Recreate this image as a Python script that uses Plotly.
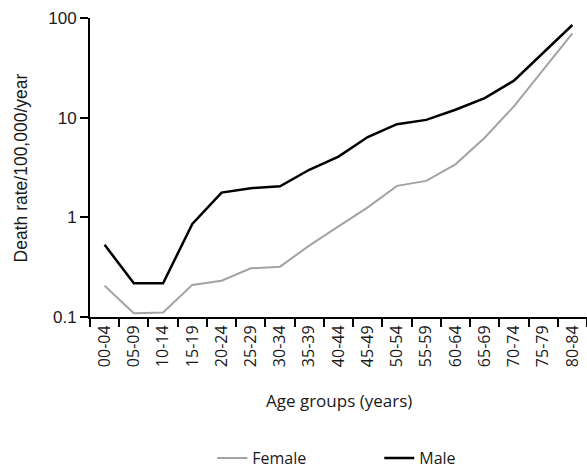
import plotly.graph_objects as go

age_groups = ["00-04", "05-09", "10-14", "15-19", "20-24", "25-29", "30-34", "35-39",
              "40-44", "45-49", "50-54", "55-59", "60-64", "65-69", "70-74", "75-79", "80-84"]
female = [0.206, 0.109, 0.111, 0.21, 0.231, 0.308, 0.32, 0.52, 0.81, 1.26, 2.07, 2.32,
          3.4, 6.3, 13.0, 30.5, 70.0]
male = [0.53, 0.218, 0.218, 0.86, 1.77, 1.96, 2.05, 3.0, 4.07, 6.4, 8.6, 9.5,
        12.0, 15.7, 23.5, 45.0, 85.0]
y_tickvals = [0.1, 1, 10, 100]
y_ticktext = ["0.1", "1", "10", "100"]

FONT = "Open Sans"
YFONT = "Liberation Sans, Arial"
TXT = "#1a1a1a"

fig = go.Figure()
fig.add_trace(go.Scatter(x=age_groups, y=female, mode="lines", name="Female",
                         line=dict(color="#a3a3a3", width=2)))
fig.add_trace(go.Scatter(x=age_groups, y=male, mode="lines", name="Male",
                         line=dict(color="#000000", width=2.5)))

fig.update_layout(
    width=587, height=468,
    margin=dict(l=90, r=0, t=18, b=151, autoexpand=False),
    paper_bgcolor="white", plot_bgcolor="white",
    font=dict(family=FONT, size=14, color=TXT),
    showlegend=True,
    legend=dict(orientation="h", x=0.582, xanchor="center",
                yref="container", y=0.0214, yanchor="middle",
                font=dict(size=16, color=TXT), itemwidth=30,
                tracegroupgap=0, entrywidth=122),
    xaxis=dict(
        type="category", range=[-0.5, 16.5], tickson="boundaries",
        showline=True, linecolor="black", linewidth=2,
        ticks="outside", ticklen=8, tickwidth=2, tickcolor="black",
        tickangle=-90, tickfont=dict(size=16, color=TXT),
        showgrid=False, zeroline=False, automargin=False,
    ),
    yaxis=dict(
        type="log", range=[-1, 2], tickvals=y_tickvals, ticktext=y_ticktext,
        showline=True, linecolor="black", linewidth=2,
        ticks="outside", ticklen=8, tickwidth=2, tickcolor="black",
        tickfont=dict(family=YFONT, size=17, color=TXT),
        showgrid=False, zeroline=False, automargin=False,
    ),
    annotations=[
        dict(text="Age groups (years)", xref="paper", yref="paper", x=0.5, y=-0.28,
             xanchor="center", yanchor="middle", showarrow=False,
             font=dict(size=17, color=TXT)),
        dict(text="Death rate/100,000/year", xref="paper", yref="paper", x=-0.139, y=0.5,
             xanchor="center", yanchor="middle", textangle=-90, showarrow=False,
             font=dict(family=YFONT, size=17.5, color=TXT)),
    ],
)

fig.write_html("out.html", config={"displayModeBar": False},
               post_script="document.body.style.margin='0';document.body.style.overflow='hidden';")
